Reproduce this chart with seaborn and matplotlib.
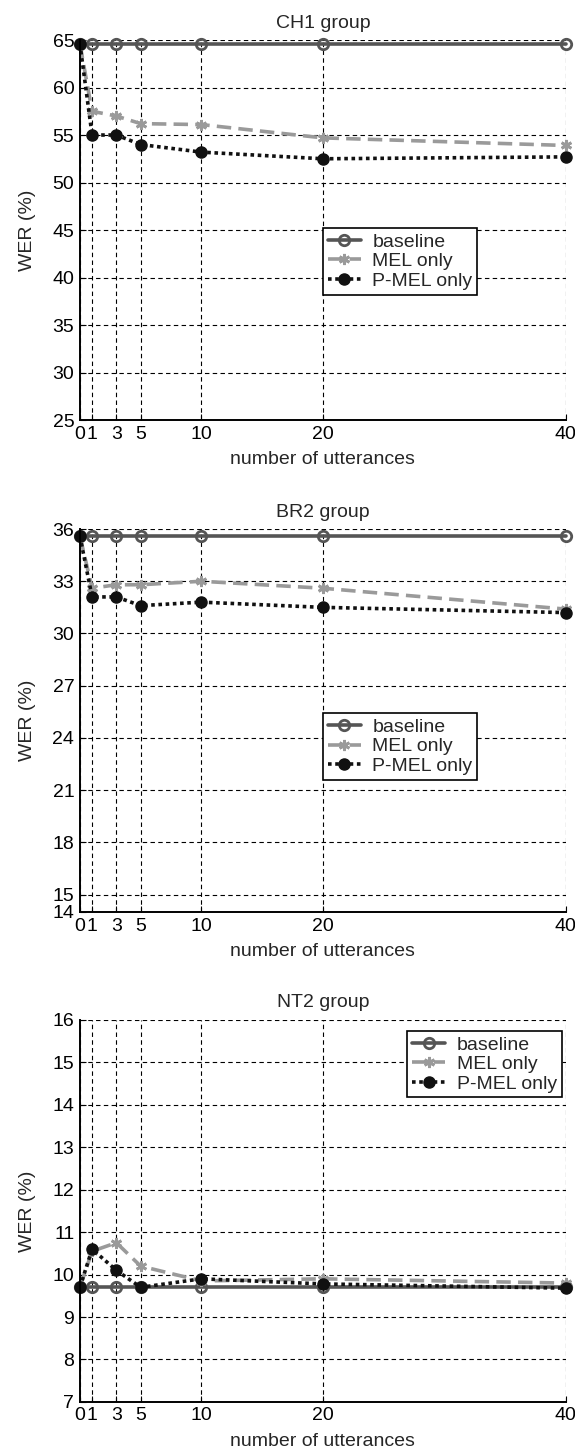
import numpy as np
import pandas as pd
import matplotlib
matplotlib.use('Agg')
import matplotlib.pyplot as plt
import seaborn as sns
from matplotlib.lines import Line2D

# ================= data =================
UTTERANCES = [0, 1, 3, 5, 10, 20, 40]

CH1_BASELINE = [64.6, 64.6, 64.6, 64.6, 64.6, 64.6, 64.6]
CH1_MEL = [64.6, 57.5, 57.0, 56.2, 56.1, 54.7, 53.9]
CH1_PMEL = [64.6, 55.0, 55.0, 54.0, 53.2, 52.5, 52.7]

BR2_BASELINE = [35.6, 35.6, 35.6, 35.6, 35.6, 35.6, 35.6]
BR2_MEL = [35.6, 32.6, 32.8, 32.8, 33.0, 32.6, 31.4]
BR2_PMEL = [35.6, 32.1, 32.1, 31.6, 31.8, 31.5, 31.2]

NT2_BASELINE = [9.7, 9.7, 9.7, 9.7, 9.7, 9.7, 9.7]
NT2_MEL = [9.7, 10.55, 10.75, 10.2, 9.85, 9.9, 9.8]
NT2_PMEL = [9.7, 10.6, 10.1, 9.7, 9.9, 9.78, 9.68]

SERIES = ['baseline', 'MEL only', 'P-MEL only']

CH1_YTICKS = [25, 30, 35, 40, 45, 50, 55, 60, 65]
BR2_YTICKS = [14, 15, 18, 21, 24, 27, 30, 33, 36]
NT2_YTICKS = [7, 8, 9, 10, 11, 12, 13, 14, 15, 16]

# ================= style =================
sns.set_theme(style='white')
plt.rcParams['font.family'] = ['Liberation Sans', 'DejaVu Sans']

STYLES = {
    'baseline': dict(color='#555555', linestyle='-', marker='o', markersize=7.5,
                     markerfacecolor='none', markeredgecolor='#555555',
                     markeredgewidth=2, linewidth=2.6),
    'MEL only': dict(color='#9a9a9a', linestyle=(0, (4, 2)), marker=(6, 2, 0), markersize=8,
                     markeredgecolor='#9a9a9a', markeredgewidth=2, linewidth=2.6),
    'P-MEL only': dict(color='#111111', linestyle=(0, (1, 1)), marker='o', markersize=8,
                       markerfacecolor='#111111', markeredgecolor='#111111',
                       markeredgewidth=1, linewidth=2.6),
}

FS = 14


def draw_panel(ax, title, base, mel, pmel, yticks, legend_kw):
    df = pd.DataFrame({'x': UTTERANCES * 3,
                       'wer': base + mel + pmel,
                       'method': np.repeat(SERIES, len(UTTERANCES))})
    for name in SERIES:
        sub = df[df['method'] == name]
        st = STYLES[name]
        sns.lineplot(data=sub, x='x', y='wer', ax=ax, clip_on=False, zorder=5, **st)

    ax.set_xlim(0, 40)
    ax.set_ylim(yticks[0], yticks[-1])
    ax.set_xticks(UTTERANCES)
    ax.set_yticks(yticks)
    ax.grid(True, color='black', linestyle=(0, (4, 3)), linewidth=0.8)
    ax.set_axisbelow(True)
    for s in ['top', 'right']:
        ax.spines[s].set_visible(False)
    for s in ['left', 'bottom']:
        ax.spines[s].set_color('black')
        ax.spines[s].set_linewidth(1.4)
        ax.spines[s].set_zorder(6)
    ax.tick_params(axis='both', direction='in', length=4, width=0.8, colors='black',
                   labelsize=FS, left=True, bottom=True, pad=4)
    ax.set_title(title, fontsize=FS, pad=9)
    ax.set_xlabel('number of utterances', fontsize=FS, labelpad=6)
    ax.set_ylabel('WER (%)', fontsize=FS, labelpad=12)

    handles = []
    for name in SERIES:
        st = STYLES[name]
        handles.append(Line2D([0], [0], **st))
    leg = ax.legend(handles, SERIES, fontsize=FS, frameon=True, fancybox=False,
                    edgecolor='black', framealpha=1, handlelength=1.7, handletextpad=0.6,
                    labelspacing=0.1, borderpad=0.25, borderaxespad=0, **legend_kw)
    leg.get_frame().set_linewidth(1.2)
    leg.set_zorder(10)


fig = plt.figure(figsize=(5.75, 14.55), dpi=100)
ax1 = fig.add_axes([0.139, 0.7113, 0.845, 0.2612])
ax2 = fig.add_axes([0.139, 0.3732, 0.845, 0.2632])
ax3 = fig.add_axes([0.139, 0.0365, 0.845, 0.2625])

draw_panel(ax1, 'CH1 group', CH1_BASELINE, CH1_MEL, CH1_PMEL, CH1_YTICKS,
           dict(loc='lower left', bbox_to_anchor=(0.5, 0.33)))
draw_panel(ax2, 'BR2 group', BR2_BASELINE, BR2_MEL, BR2_PMEL, BR2_YTICKS,
           dict(loc='lower left', bbox_to_anchor=(0.5, 0.345)))
draw_panel(ax3, 'NT2 group', NT2_BASELINE, NT2_MEL, NT2_PMEL, NT2_YTICKS,
           dict(loc='upper right', bbox_to_anchor=(0.992, 0.971)))

fig.savefig('out.png', dpi=100)
